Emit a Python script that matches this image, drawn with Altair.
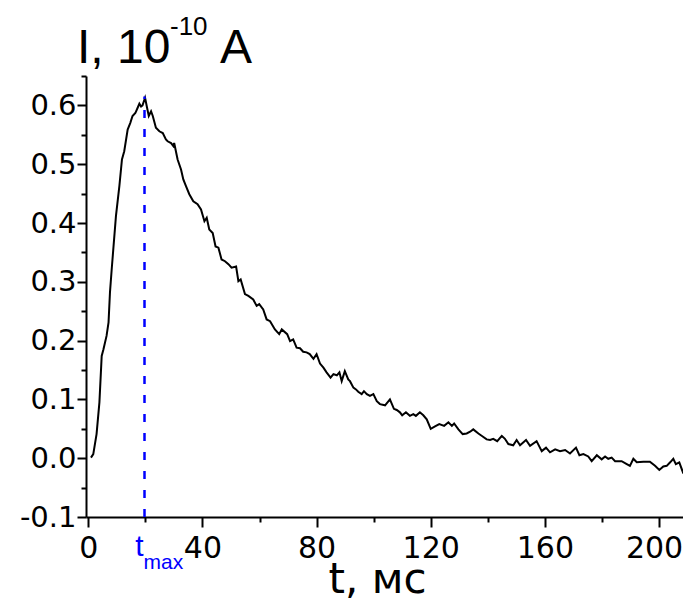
import altair as alt
import pandas as pd

# ---- data ----
t_ms = [0.95, 1.75, 2.9, 3.9, 4.7, 5.3, 6.4, 7.1, 7.6, 8.2, 9.7, 10.9, 11.8, 12.6, 13.8, 14.7,
        15.5, 16.5, 17.3, 17.9, 18.5, 19.0, 19.9, 20.6, 21.2, 22.0, 22.6, 23.7, 24.9, 26.1,
        27.2, 27.8, 29.0, 29.8, 30.1, 31.3, 32.5, 33.3, 34.2, 35.4, 36.8, 38.3, 39.5, 40.7,
        41.5, 42.4, 43.6, 44.6, 45.6, 46.7, 47.9, 49.1, 50.2, 51.8, 52.6, 53.4, 54.9, 56.1,
        57.8, 59.0, 59.9, 61.3, 62.5, 63.7, 65.4, 66.9, 67.8, 69.7, 70.7, 71.8, 73.0, 74.2,
        75.3, 76.5, 77.6, 78.9, 80.0, 81.2, 82.4, 83.5, 84.9, 85.9, 87.1, 88.0, 88.8, 89.9,
        91.1, 91.7, 92.9, 93.8, 94.6, 95.8, 96.6, 97.6, 98.7, 99.9, 101.1, 102.2, 104.0,
        105.7, 107.1, 108.1, 109.2, 110.0, 111.3, 112.7, 113.9, 114.8, 116.2, 117.4, 118.6,
        120.0, 121.5, 123.0, 124.7, 126.2, 127.4, 128.2, 129.7, 131.2, 132.6, 133.8, 134.9,
        136.7, 138.2, 139.6, 140.8, 141.9, 143.3, 144.9, 146.0, 147.2, 148.9, 150.1, 151.3,
        153.4, 154.8, 157.1, 158.9, 160.4, 161.8, 163.6, 165.3, 167.1, 168.8, 170.9, 172.1,
        173.5, 175.2, 176.4, 178.2, 179.9, 181.1, 182.2, 183.4, 184.6, 186.9, 188.7, 189.8,
        191.0, 192.2, 194.5, 196.8, 198.6, 200.1, 201.5, 202.7, 203.9, 205.0, 205.9, 207.1,
        208.3, 209.1, 210.3]
current = [0.001, 0.007, 0.041, 0.095, 0.174, 0.185, 0.208, 0.231, 0.282, 0.321, 0.412, 0.463,
           0.508, 0.522, 0.559, 0.570, 0.582, 0.587, 0.596, 0.603, 0.598, 0.600, 0.613, 0.596,
           0.582, 0.590, 0.582, 0.562, 0.556, 0.553, 0.542, 0.539, 0.536, 0.531, 0.536, 0.508,
           0.491, 0.474, 0.463, 0.449, 0.437, 0.432, 0.423, 0.403, 0.409, 0.389, 0.383, 0.360,
           0.358, 0.338, 0.335, 0.330, 0.324, 0.326, 0.301, 0.304, 0.279, 0.276, 0.270, 0.259,
           0.262, 0.253, 0.236, 0.233, 0.219, 0.211, 0.219, 0.211, 0.199, 0.202, 0.188, 0.187,
           0.181, 0.180, 0.177, 0.169, 0.177, 0.161, 0.154, 0.146, 0.137, 0.143, 0.141, 0.146,
           0.131, 0.148, 0.134, 0.131, 0.120, 0.117, 0.113, 0.109, 0.114, 0.109, 0.106, 0.109,
           0.097, 0.092, 0.090, 0.100, 0.084, 0.082, 0.078, 0.073, 0.078, 0.072, 0.075, 0.072,
           0.078, 0.073, 0.066, 0.050, 0.054, 0.058, 0.055, 0.061, 0.055, 0.059, 0.049, 0.041,
           0.042, 0.045, 0.049, 0.042, 0.037, 0.032, 0.031, 0.033, 0.029, 0.038, 0.033, 0.024,
           0.022, 0.031, 0.022, 0.031, 0.021, 0.029, 0.012, 0.018, 0.010, 0.015, 0.012, 0.014,
           0.008, 0.018, 0.005, 0.007, 0.003, -0.005, 0.005, -0.002, 0.003, -0.001, 0.001,
           -0.005, -0.005, -0.010, -0.013, -0.001, -0.007, -0.006, -0.006, -0.013, -0.020,
           -0.014, -0.013, -0.007, -0.001, -0.010, -0.007, -0.023, -0.016, -0.022]

T_MAX = 19.7
I_PEAK = 0.615

x_major = [0, 40, 80, 120, 160, 200]
x_minor = [20, 60, 100, 140, 180]
y_major = [-0.1, 0.0, 0.1, 0.2, 0.3, 0.4, 0.5, 0.6]
y_minor = [-0.05, 0.05, 0.15, 0.25, 0.35, 0.45, 0.55, 0.65]

X_DOMAIN = [-0.8, 208.4]
Y_DOMAIN = [-0.1, 0.65]

FONT = "Liberation Sans"
WIDE = "DejaVu Sans"
BLUE = "#0000FF"

curve = pd.DataFrame({"t": t_ms, "I": current})
marker = pd.DataFrame({"t": [T_MAX], "lo": [Y_DOMAIN[0]], "hi": [I_PEAK]})

xs = alt.Scale(domain=X_DOMAIN, nice=False, zero=False)
ys = alt.Scale(domain=Y_DOMAIN, nice=False, zero=False)

line = alt.Chart(curve).mark_line(color="black", strokeWidth=2, clip=True).encode(
    x=alt.X("t:Q", scale=xs, axis=alt.Axis(
        orient="bottom", values=x_major, format="d", tickSize=10, labelFontSize=30,
        labelFont=WIDE, labelPadding=6,
        labelOffset={"condition": {"test": "datum.value == 200", "value": -5}, "value": 0},
        title="t, мс", titleFont=WIDE, titleFontSize=42,
        titleFontWeight="normal", titleX=291, titleY=75, titleBaseline="alphabetic",
        titleAlign="center")),
    y=alt.Y("I:Q", scale=ys, axis=alt.Axis(
        orient="left", values=y_major, tickSize=9, labelFontSize=29, labelFont=WIDE,
        labelPadding=1, title=None,
        labelExpr="datum.value < 0 ? '-' + format(-datum.value, '.1f') : format(datum.value, '.1f')")),
)

rule = alt.Chart(marker).mark_rule(color=BLUE, strokeWidth=2.5, strokeDash=[8, 11]).encode(
    x=alt.X("t:Q", scale=xs, axis=alt.Axis(
        orient="bottom", values=x_minor, tickSize=5, labels=False, domain=False, title=None)),
    y=alt.Y("lo:Q", scale=ys, axis=alt.Axis(
        orient="left", values=y_minor, tickSize=5, labels=False, domain=False, title=None)),
    y2="hi:Q",
)

tmax_t = alt.Chart(marker).mark_text(
    text="t", font=FONT, fontSize=30, color=BLUE, align="right", baseline="alphabetic", dx=-1
).encode(x=alt.X("t:Q", scale=xs, axis=None), y=alt.value(480))

tmax_sub = alt.Chart(marker).mark_text(
    text="max", font=FONT, fontSize=21, color=BLUE, align="left", baseline="alphabetic", dx=-1
).encode(x=alt.X("t:Q", scale=xs, axis=None), y=alt.value(493))

title_main = alt.Chart(marker).mark_text(
    text="I, 10", font=FONT, fontSize=48, color="black", align="left", baseline="alphabetic"
).encode(x=alt.value(-9), y=alt.value(-13))
title_sup = alt.Chart(marker).mark_text(
    text="-10", font=FONT, fontSize=26, color="black", align="left", baseline="alphabetic"
).encode(x=alt.value(84), y=alt.value(-41))
title_unit = alt.Chart(marker).mark_text(
    text="A", font=FONT, fontSize=48, color="black", align="left", baseline="alphabetic"
).encode(x=alt.value(134), y=alt.value(-13))

chart = alt.layer(line, rule, tmax_t, tmax_sub, title_main, title_sup, title_unit).resolve_axis(
    x="independent", y="independent"
).properties(
    width=597, height=441,
    autosize=alt.AutoSizeParams(type="none"),
    padding={"left": 78, "top": 68, "right": 0, "bottom": 81},
).configure_view(stroke=None).configure_axis(
    grid=False, domainColor="black", domainWidth=2, tickColor="black", tickWidth=2,
    labelColor="black", labelFont=FONT, titleFont=FONT, titleColor="black",
)

chart.save("out.html", embed_options={"renderer": "svg", "actions": False})
